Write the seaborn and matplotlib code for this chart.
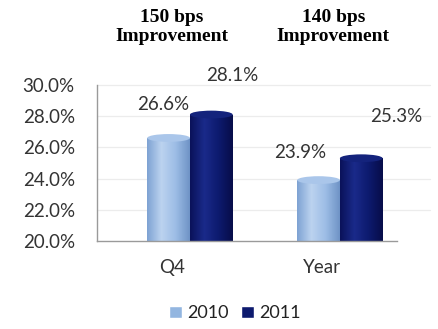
import matplotlib
matplotlib.use("Agg")
import matplotlib.pyplot as plt
import seaborn as sns
import pandas as pd
import numpy as np
from matplotlib.ticker import FixedLocator, PercentFormatter
from matplotlib.colors import LinearSegmentedColormap
from matplotlib.patches import Ellipse, Patch

categories = ["Q4", "Year"]
years = ["2010", "2011"]
values_2010 = [26.6, 23.9]
values_2011 = [28.1, 25.3]
improvements = ["150 bps\nImprovement", "140 bps\nImprovement"]
yticks = [20.0, 22.0, 24.0, 26.0, 28.0, 30.0]

df = pd.DataFrame({
    "category": categories * 2,
    "year": [years[0]] * 2 + [years[1]] * 2,
    "value": values_2010 + values_2011,
})

sns.set_style("white")
plt.rcParams["font.family"] = ["Lato", "DejaVu Sans"]

fig = plt.figure(figsize=(4.39, 3.29), dpi=100)
ax = fig.add_axes([0.221, 0.2675, 0.683, 0.4745])

palette = {"2010": "#93b6e0", "2011": "#0d1a6e"}
sns.barplot(data=df, x="category", y="value", hue="year", palette=palette,
            width=0.57, ax=ax, saturation=1, legend=True)

ax.set_ylim(20, 30)
ax.set_xlim(-0.5, 1.5)
ax.yaxis.set_major_locator(FixedLocator(yticks))
ax.yaxis.set_major_formatter(PercentFormatter(decimals=1))
ax.set_xlabel("")
ax.set_ylabel("")
for s in ["top", "right"]:
    ax.spines[s].set_visible(False)
for s in ["left", "bottom"]:
    ax.spines[s].set_color("#9a9a9a")
    ax.spines[s].set_linewidth(1.0)
for yv in yticks[1:]:
    ax.axhline(yv, xmin=0.0, xmax=1.11, color="#ececec", linewidth=0.9,
               clip_on=False, zorder=0)
ax.tick_params(axis="y", direction="out", length=6, color="#9a9a9a",
               labelsize=13.5, labelcolor="#333333", pad=10)
ax.xaxis.set_minor_locator(FixedLocator([-0.5, 0.5, 1.5]))
ax.tick_params(axis="x", which="major", length=0, labelsize=13.5,
               labelcolor="#333333", pad=13)
ax.tick_params(axis="x", which="minor", direction="out", length=5, color="#9a9a9a")

# cylinder-like shading, shifted to match perspective
shift = 0.12
grad = {
    "2010": LinearSegmentedColormap.from_list("g10", ["#7fa3d3", "#bcd3ef", "#9dbde6", "#6f93c6"]),
    "2011": LinearSegmentedColormap.from_list("g11", ["#0a125a", "#1a2a8a", "#0d1a6e", "#070d4a"]),
}
top_col = {"2010": "#aac6ea", "2011": "#14237c"}
for container, yr in zip(ax.containers, years):
    for bar in container:
        bar.set_x(bar.get_x() + shift)
        x0, w, h = bar.get_x(), bar.get_width(), bar.get_height()
        bar.set_facecolor("none")
        bar.set_edgecolor("none")
        img = ax.imshow(np.linspace(0, 1, 64).reshape(1, -1), cmap=grad[yr],
                        extent=(x0, x0 + w, 20, h), aspect="auto", zorder=2)
        img.set_clip_path(bar)
        ax.add_patch(Ellipse((x0 + w / 2, h), w, 0.5, facecolor=top_col[yr],
                             edgecolor="none", zorder=3))
ax.set_xlim(-0.5, 1.5)
ax.set_ylim(20, 30)

# value labels
label_offsets = {"2010": [(-4, 24), (-13, 20)], "2011": [(15, 28), (25, 30)]}
for container, yr in zip(ax.containers, years):
    for i, (bar, v) in enumerate(zip(container, df[df["year"] == yr]["value"])):
        ox, oy = label_offsets[yr][i]
        ax.annotate(f"{v:.1f}%", (bar.get_x() + bar.get_width() / 2, v),
                    xytext=(ox, oy), textcoords="offset points",
                    ha="center", va="center", fontsize=13.5, color="#333333",
                    annotation_clip=False)

# improvement headers
for xc, txt in zip([0.392, 0.759], improvements):
    fig.text(xc, 0.918, txt, ha="center", va="center", fontsize=14,
             fontweight="bold", family="Liberation Serif", color="black",
             linespacing=1.15)

ax.get_legend().remove()
handles = [Patch(facecolor=palette[y]) for y in years]
fig.legend(handles, years, loc="center", bbox_to_anchor=(0.535, 0.048), ncol=2,
           frameon=False, fontsize=13, handlelength=0.7, handleheight=0.7,
           handletextpad=0.3, columnspacing=0.7, labelcolor="#222222")

fig.savefig("out.png", dpi=100)
